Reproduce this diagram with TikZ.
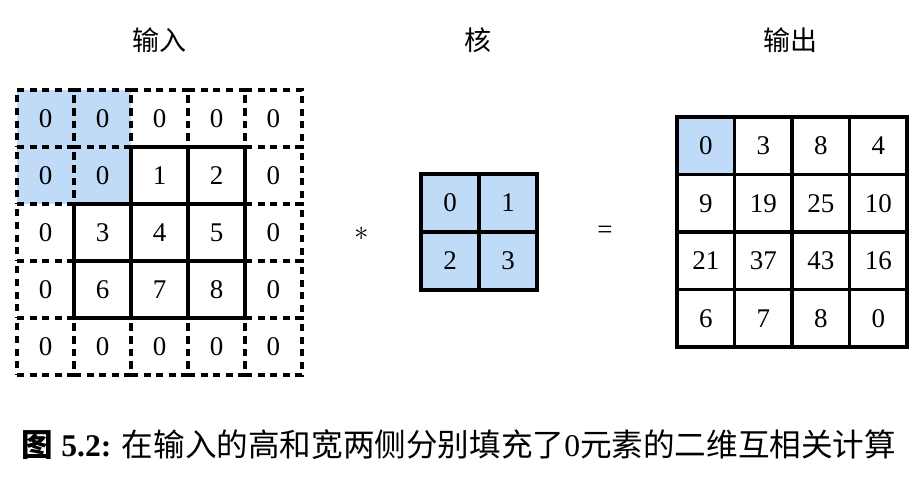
\documentclass[tikz,border=0pt]{standalone}
\usepackage{fontspec}
\setmainfont{Liberation Serif}
\newfontfamily\cjk{Noto Sans CJK SC}
\definecolor{cellblue}{RGB}{191,219,248}

\begin{document}
\begin{tikzpicture}[x=0.5pt,y=-0.5pt,
	every node/.style={font=\fontsize{13.5}{16}\selectfont},
	incell/.style={draw, line width=1.6pt, minimum size=28.5pt, inner sep=0pt, outer sep=0pt},
	pad/.style={incell, dash pattern=on 3.5pt off 2.8pt},
	hl/.style={fill=cellblue}]
	\useasboundingbox (0,0) rectangle (918,484);
	% titles
	\node (t-in) at (160,40) {\cjk 输入};
	\node (t-ker) at (478,40) {\cjk 核};
	\node (t-out) at (790,40) {\cjk 输出};
	% padded input
	\fill[cellblue] (17,90) rectangle (131,204);
	\foreach \v [count=\k from 0] in {0,0,0,0,0, 0,0,1,2,0, 0,3,4,5,0, 0,6,7,8,0, 0,0,0,0,0}{
		\pgfmathtruncatemacro\r{int(\k/5)}
		\pgfmathtruncatemacro\c{mod(\k,5)}
		\node[pad] (in-\r-\c) at ({45.5+57*\c},{118.5+57*\r}) {\v};
	}
	\foreach \r/\c in {1/2,1/3,2/1,2/2,2/3,3/1,3/2,3/3}
		\draw[line width=1.6pt] (in-\r-\c.north west) rectangle (in-\r-\c.south east);
	\node (op-conv) at (362,234) {$*$};
	% kernel
	\foreach \v [count=\k from 0] in {0,1,2,3}{
		\pgfmathtruncatemacro\r{int(\k/2)}
		\pgfmathtruncatemacro\c{mod(\k,2)}
		\node[incell, hl, minimum size=29pt] (ker-\r-\c) at ({450+58*\c},{203+58*\r}) {\v};
	}
	\node (op-eq) at (605,232) {=};
	% output
	\foreach \v [count=\k from 0] in {0,3,8,4, 9,19,25,10, 21,37,43,16, 6,7,8,0}{
		\pgfmathtruncatemacro\r{int(\k/4)}
		\pgfmathtruncatemacro\c{mod(\k,4)}
		\node[incell, minimum size=28.75pt] (out-\r-\c) at ({705.75+57.5*\c},{145.75+57.5*\r}) {\v};
	}
	\fill[cellblue] ([shift={(0.8pt,-0.8pt)}]out-0-0.north west) rectangle ([shift={(-0.8pt,0.8pt)}]out-0-0.south east);
	\node at (out-0-0) {0};
	% caption
	\node[font=\fontsize{15.8}{18}\selectfont] (cap) at (459,445)
		{{\cjk\bfseries 图} \textbf{5.2:} {\cjk 在输入的高和宽两侧分别填充了}0{\cjk 元素的二维互相关计算}};
\end{tikzpicture}
\end{document}
